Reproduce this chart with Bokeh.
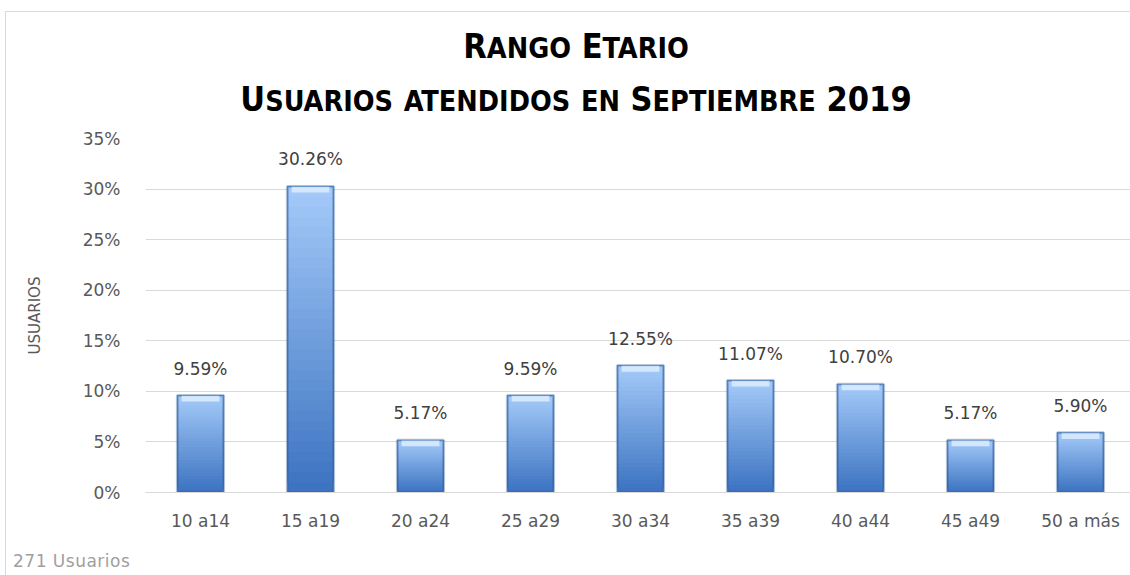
from bokeh.plotting import figure
from bokeh.models import Div
from bokeh.layouts import column
from bokeh.core.properties import value
from bokeh.embed import file_html
from bokeh.resources import INLINE

# ---------------- data ----------------
categories = ["10 a14", "15 a19", "20 a24", "25 a29", "30 a34",
              "35 a39", "40 a44", "45 a49", "50 a más"]
shares = [9.59, 30.26, 5.17, 9.59, 12.55, 11.07, 10.70, 5.17, 5.90]   # percent
y_ticks = [0, 5, 10, 15, 20, 25, 30, 35]
title_lines = ["Rango Etario", "Usuarios atendidos en Septiembre 2019"]
y_title = "USUARIOS"
footer = "271 Usuarios"

# ---------------- layout constants ----------------
PAGE_W = 1130
DIV_H = 128
FOOT_H = 22
FIG_W, FIG_H = PAGE_W, 575 - DIV_H - FOOT_H
FRAME_BOTTOM_PAGE = 492
LEFT, RIGHT, TOP = 145, 0, 10
BOTTOM = DIV_H + FIG_H - FRAME_BOTTOM_PAGE
BAND_PX = 110
BAR_W = 0.42
LABEL_FONT = value("DejaVu Sans")
GREY = "#595959"
BORDER = "#d9d9d9"
LEFT_LINE = (f"linear-gradient(to right, transparent 5px, {BORDER} 5px, "
             f"{BORDER} 6px, transparent 6px)")

x_idx = list(range(len(categories)))
x_end = -0.5 + (FIG_W - LEFT - RIGHT) / BAND_PX

p = figure(width=FIG_W, height=FIG_H, x_range=(-0.5, x_end), y_range=(0, 35),
           output_backend="svg", toolbar_location=None,
           min_border_left=LEFT, min_border_right=RIGHT,
           min_border_top=TOP, min_border_bottom=BOTTOM,
           margin=(0, 0, 0, 0), styles={"background": LEFT_LINE})
p.outline_line_color = None
p.background_fill_color = "white"
p.border_fill_color = None

# grid / axes
p.xgrid.grid_line_color = None
p.ygrid.grid_line_color = BORDER
p.ygrid.grid_line_width = 1

p.yaxis.ticker = y_ticks
p.yaxis.major_label_overrides = {t: f"{t}%" for t in y_ticks}
p.yaxis.axis_line_color = None
p.yaxis.major_tick_line_color = None
p.yaxis.minor_tick_line_color = None
p.yaxis.major_tick_out = 0
p.yaxis.major_label_standoff = 25
p.yaxis.major_label_text_font = "DejaVu Sans"
p.yaxis.major_label_text_font_size = "17px"
p.yaxis.major_label_text_color = GREY
p.yaxis.axis_label = y_title
p.yaxis.axis_label_text_font = "DejaVu Sans"
p.yaxis.axis_label_text_font_size = "15px"
p.yaxis.axis_label_text_font_style = "normal"
p.yaxis.axis_label_text_color = GREY
p.yaxis.axis_label_standoff = 36

p.xaxis.ticker = x_idx
p.xaxis.major_label_overrides = {i: c for i, c in zip(x_idx, categories)}
p.xaxis.axis_line_color = BORDER
p.xaxis.major_tick_line_color = None
p.xaxis.minor_tick_line_color = None
p.xaxis.major_tick_out = 0
p.xaxis.major_label_standoff = 18
p.xaxis.major_label_text_font = "DejaVu Sans"
p.xaxis.major_label_text_font_size = "17px"
p.xaxis.major_label_text_color = GREY

# ---------------- gradient bars ----------------
def lerp(c1, c2, t):
    return "#%02x%02x%02x" % tuple(int(round(a + (b - a) * t)) for a, b in zip(c1, c2))

C_BOTTOM = (0x3b, 0x72, 0xc0)
C_TOP = (0xa4, 0xca, 0xf9)
N = 30
gx, gb, gt, gc = [], [], [], []
for i, v in zip(x_idx, shares):
    for k in range(N):
        gx.append(i)
        gb.append(v * k / N)
        gt.append(v)
        gc.append(lerp(C_BOTTOM, C_TOP, (k + 0.5) / N))
p.vbar(x=gx, bottom=gb, top=gt, width=BAR_W, fill_color=gc, line_color=None)

# darker side edges (rounded look)
p.vbar(x=x_idx, top=shares, bottom=0, width=BAR_W, fill_color=None,
       line_color="#2f5e9e", line_alpha=0.35, line_width=3)
# bevel highlight at the top of each bar
p.vbar(x=x_idx, top=shares, bottom=[v - 0.6 for v in shares], width=BAR_W * 0.82,
       fill_color="#d8eafe", line_color=None, fill_alpha=0.9)
# thin outline
p.vbar(x=x_idx, top=shares, bottom=0, width=BAR_W, fill_color=None,
       line_color="#2f5e9e", line_alpha=0.5, line_width=1)

# value labels
p.text(x=x_idx, y=shares, text=[f"{v:.2f}%" for v in shares],
       text_align="center", text_baseline="alphabetic", y_offset=-27,
       text_font=LABEL_FONT, text_font_size="17px", text_color="#404040")

# ---------------- title (small caps built from the title strings) ----------------
def small_caps(s, big=34, small=28.5):
    out = []
    for ch in s:
        if ch.islower():
            out.append(f'<span style="font-size:{small}px">{ch.upper()}</span>')
        else:
            out.append(f'<span style="font-size:{big}px">{ch}</span>')
    return "".join(out)

lines_html = "".join(
    f'<div style="height:53px;line-height:53px;white-space:nowrap;">{small_caps(t)}</div>'
    for t in title_lines)
title_html = (
    f'<div style="position:relative;width:{PAGE_W}px;height:{DIV_H}px;">'
    f'<div style="position:absolute;left:5px;top:11px;right:0;bottom:0;'
    f'border-left:1px solid {BORDER};border-top:1px solid {BORDER};"></div>'
    f'<div style="position:absolute;left:11px;top:20px;width:{PAGE_W}px;text-align:center;'
    'font-family:\'DejaVu Sans Condensed\',\'DejaVu Sans\',sans-serif;font-weight:bold;color:#000;">'
    f'{lines_html}</div></div>'
)
div = Div(text=title_html, width=PAGE_W, height=DIV_H, margin=(0, 0, 0, 0))

footer_html = (
    f'<div style="position:relative;width:{PAGE_W}px;height:{FOOT_H}px;background:{LEFT_LINE};">'
    '<div style="position:absolute;left:13px;top:0px;line-height:17px;font-size:17px;letter-spacing:0.5px;'
    f'font-family:\'DejaVu Sans\',sans-serif;color:#a0a0a0;white-space:nowrap;">{footer}</div></div>'
)
foot = Div(text=footer_html, width=PAGE_W, height=FOOT_H, margin=(0, 0, 0, 0))

layout = column(div, p, foot, spacing=0)

open("out.html", "w").write(file_html(layout, INLINE))
